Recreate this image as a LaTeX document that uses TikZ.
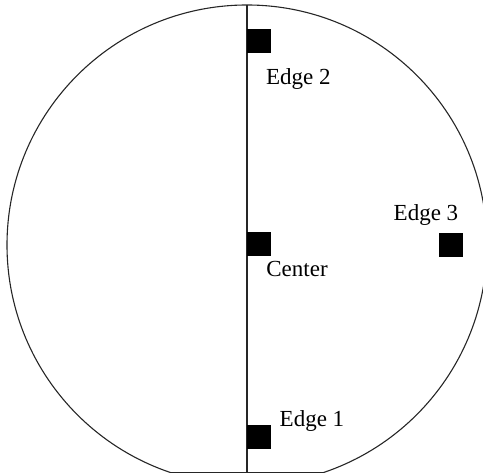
\documentclass[tikz,border=0pt]{standalone}
\usepackage{fontspec}
\setmainfont{Liberation Serif}
\begin{document}
\begin{tikzpicture}[x=0.5pt,y=-0.5pt,
  outline/.style={line width=0.55pt,draw=black!85},
  pad/.style={fill=black,draw=none,inner sep=0pt,minimum size=12pt},
  lbl/.style={anchor=base west,inner sep=0pt,font=\fontsize{11.5}{14}\selectfont}]
\useasboundingbox (0,0) rectangle (483,474);
\coordinate (ctr) at (247,245);
\coordinate (top) at (247,5);
\coordinate (bot) at (247,472.5);
\coordinate (fl) at (170.6,472.5);
\coordinate (fr) at (323.4,472.5);
\begin{scope}
  \clip (-20,-20) rectangle (520,472.5);
  \draw[outline] (ctr) circle[radius=240];
\end{scope}
\draw[outline] (fl) -- (fr);
\draw[outline] (top) -- (bot);
\node[pad] (p2) at (258.8,40.8) {};
\node[pad] (pc) at (258.8,244) {};
\node[pad] (p1) at (258.8,437.2) {};
\node[pad] (p3) at (450.8,245.2) {};
\node[lbl] (l2) at (265.7,85) {Edge 2};
\node[lbl] (l3) at (393.3,220.7) {Edge 3};
\node[lbl] (lc) at (266,277) {Center};
\node[lbl] (l1) at (279.3,426.7) {Edge 1};
\end{tikzpicture}
\end{document}
